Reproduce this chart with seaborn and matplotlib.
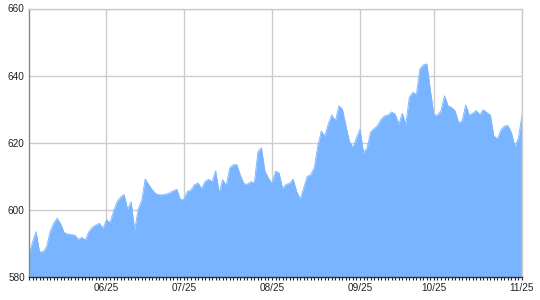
import numpy as np
import pandas as pd
import matplotlib
matplotlib.use("Agg")
import matplotlib.pyplot as plt
import seaborn as sns

# --- data (one value per trading session) ---
values = [
    586.6, 590.5, 593.5, 587.5, 587.5, 589.0, 593.5, 596.0, 597.5, 595.8,
    593.2, 592.8, 592.6, 592.5, 591.2, 591.8, 591.0, 593.5, 594.8, 595.5,
    596.0, 594.5, 597.0, 596.3, 599.5, 602.4, 603.8, 604.6, 600.2, 602.4,
    594.0, 600.3, 602.8, 609.2, 607.5, 606.0, 604.8, 604.5, 604.5, 604.7,
    605.1, 605.7, 606.1, 603.0, 603.2, 605.5, 605.9, 607.5, 608.0, 606.3,
    608.5, 609.1, 608.4, 611.6, 605.2, 609.0, 607.2, 612.5, 613.4, 613.5,
    610.4, 607.8, 607.6, 608.4, 608.1, 617.3, 618.5, 611.5, 609.5, 607.8,
    611.5, 611.0, 606.4, 607.6, 607.9, 609.2, 605.5, 603.2, 606.5, 610.0,
    610.5, 612.5, 619.0, 623.5, 622.0, 625.7, 628.3, 626.5, 631.0, 630.0,
    625.0, 620.3, 618.6, 621.5, 624.0, 617.0, 618.5, 623.2, 624.2, 625.2,
    627.0, 628.0, 628.3, 629.2, 628.5, 625.6, 628.8, 625.5, 633.6, 635.0,
    634.4, 642.0, 643.2, 643.5, 635.5, 628.2, 628.3, 629.5, 634.0, 631.0,
    630.5, 629.5, 626.0, 626.5, 631.3, 628.3, 628.8, 629.6, 628.4, 629.8,
    629.0, 628.3, 622.0, 621.2, 623.8, 625.0, 625.1, 623.0, 618.8, 621.5,
    628.3,
]
session = list(range(len(values)))
tick_sessions = [22, 44, 69, 94, 115, 140]
tick_labels = ["06/25", "07/25", "08/25", "09/25", "10/25", "11/25"]
y_ticks = [580, 600, 620, 640, 660]

df = pd.DataFrame({"session": session, "value": values})

sns.set_theme(style="white")
plt.rcParams["font.family"] = ["Liberation Sans", "DejaVu Sans"]

fig = plt.figure(figsize=(5.4, 3.0), dpi=100)
ax = fig.add_axes([29 / 540, 1 - 277 / 300, (522 - 29) / 540, (277 - 8.5) / 300])

fill_color = "#78b4ff"
ax.fill_between(df["session"], df["value"], 580, color=fill_color, linewidth=0, zorder=2)
sns.lineplot(data=df, x="session", y="value", ax=ax, color=fill_color, linewidth=0.6, zorder=3)

ax.set_xlim(0, len(values) - 1)
ax.set_ylim(580, 660)
ax.set_yticks(y_ticks)
ax.set_yticklabels([str(v) for v in y_ticks])
ax.set_xticks(tick_sessions)
ax.set_xticklabels(tick_labels)
ax.set_xticks(session, minor=True)
ax.set_xlabel("")
ax.set_ylabel("")

ax.grid(True, which="major", color="#cccccc", linewidth=1.0, zorder=0)
ax.set_axisbelow(True)

ax.tick_params(axis="x", which="both", direction="out", length=2.5, width=0.8,
               color="#222222", bottom=True, labelsize=7.2, pad=1.5, labelcolor="#222222")
ax.tick_params(axis="y", which="both", length=0, labelsize=7.2, pad=3, labelcolor="#222222")

for side in ["top", "right"]:
    ax.spines[side].set_color("#cccccc")
    ax.spines[side].set_linewidth(1.0)
ax.spines["left"].set_color("#888888")
ax.spines["left"].set_linewidth(1.0)
ax.spines["bottom"].set_color("#333333")
ax.spines["bottom"].set_linewidth(1.0)
for s in ax.spines.values():
    s.set_zorder(4)

fig.savefig("out.png", dpi=100)
